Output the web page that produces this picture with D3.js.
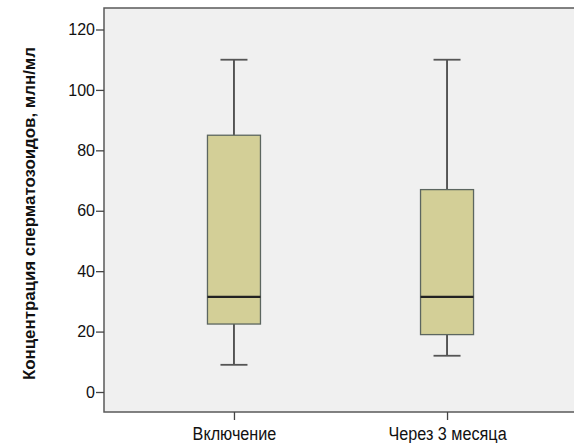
<!DOCTYPE html>
<html>
<head>
<meta charset="utf-8">
<script src="https://cdn.jsdelivr.net/npm/d3@7"></script>
<style>
  html, body { margin: 0; padding: 0; background: #ffffff; }
  svg { display: block; }
  text { font-family: "Liberation Sans", Arial, sans-serif; fill: #111; }
</style>
</head>
<body>
<svg id="chart" width="574" height="443"></svg>
<script>
// Sperm concentration box plots, before and 3 months after
const categories = ["Включение", "Через 3 месяца"];
const whiskerLow  = [9, 12];
const q1          = [22.5, 19];
const median      = [31.5, 31.5];
const q3          = [85, 67];
const whiskerHigh = [110, 110];
const yTicks = [0, 20, 40, 60, 80, 100, 120];
const yTitle = "Концентрация сперматозоидов, млн/мл";

const frame = { left: 104, top: 8, right: 577, bottom: 412 };

const svg = d3.select("#chart");

const y = d3.scaleLinear().domain([0, 120]).range([392, 29.5]);
const x = d3.scalePoint().domain(categories).range([frame.left, frame.right]).padding(0.61);

// plot area
svg.append("rect")
  .attr("x", frame.left).attr("y", frame.top)
  .attr("width", frame.right - frame.left).attr("height", frame.bottom - frame.top)
  .attr("fill", "#f0f0f0").attr("stroke", "#5a5a5a").attr("stroke-width", 1.5);

// y axis
const yAxis = d3.axisLeft(y).tickValues(yTicks).tickSize(8).tickPadding(1);
const gy = svg.append("g").attr("transform", `translate(${frame.left},0)`).call(yAxis);
gy.select(".domain").remove();
gy.selectAll(".tick line").attr("stroke", "#444").attr("stroke-width", 1.3);
gy.selectAll(".tick text").attr("font-size", 16).attr("fill", "#111")
  .style("font-family", "'Liberation Sans', Arial, sans-serif");

// x axis; labels slightly condensed
const xAxis = d3.axisBottom(x).tickSize(8).tickPadding(0);
const gx = svg.append("g").attr("transform", `translate(0,${frame.bottom})`).call(xAxis);
gx.select(".domain").remove();
gx.selectAll(".tick line").attr("stroke", "#444").attr("stroke-width", 1.3);
gx.selectAll(".tick text")
  .attr("font-size", 18).attr("fill", "#111").attr("dy", null).attr("y", 28)
  .style("font-family", "'Liberation Sans', Arial, sans-serif")
  .each(function () {
    const len = this.getComputedTextLength();
    d3.select(this).attr("textLength", len * 0.9).attr("lengthAdjust", "spacingAndGlyphs");
  });

// y title
svg.append("text")
  .attr("transform", `translate(35,213.5) rotate(-90)`)
  .attr("text-anchor", "middle")
  .attr("font-size", 17).attr("font-weight", "bold")
  .attr("textLength", 333).attr("lengthAdjust", "spacingAndGlyphs")
  .text(yTitle);

// boxes
const boxW = 53, capW = 27;
const g = svg.append("g");
categories.forEach((c, i) => {
  const cx = x(c);
  // whisker stems
  g.append("line").attr("x1", cx).attr("x2", cx)
    .attr("y1", y(whiskerHigh[i])).attr("y2", y(q3[i]))
    .attr("stroke", "#333").attr("stroke-width", 1.6);
  g.append("line").attr("x1", cx).attr("x2", cx)
    .attr("y1", y(q1[i])).attr("y2", y(whiskerLow[i]))
    .attr("stroke", "#333").attr("stroke-width", 1.6);
  // caps
  [whiskerHigh[i], whiskerLow[i]].forEach(v => {
    g.append("line").attr("x1", cx - capW / 2).attr("x2", cx + capW / 2)
      .attr("y1", y(v)).attr("y2", y(v))
      .attr("stroke", "#555").attr("stroke-width", 1.8);
  });
  // box
  g.append("rect")
    .attr("x", cx - boxW / 2).attr("width", boxW)
    .attr("y", y(q3[i])).attr("height", y(q1[i]) - y(q3[i]))
    .attr("fill", "#d3cf97").attr("stroke", "#5c6660").attr("stroke-width", 1.3);
  // median
  g.append("line").attr("x1", cx - boxW / 2).attr("x2", cx + boxW / 2)
    .attr("y1", y(median[i])).attr("y2", y(median[i]))
    .attr("stroke", "#222").attr("stroke-width", 2.2);
});
</script>
</body>
</html>
